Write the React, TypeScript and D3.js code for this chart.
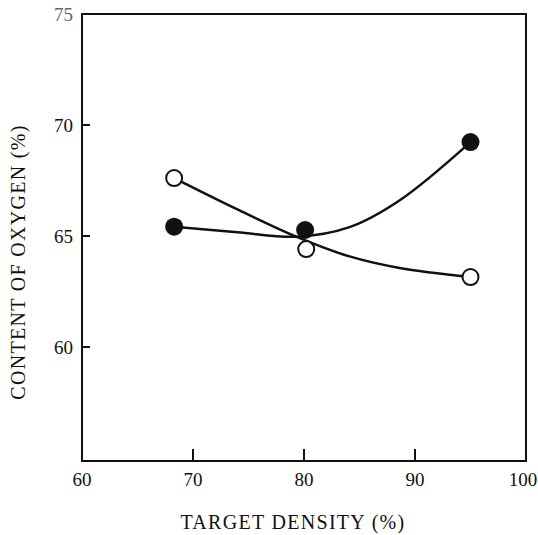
import React from "react";
import * as d3 from "d3";

const filledPoints: [number, number][] = [
  [68.3, 65.42],
  [80.1, 65.27],
  [95.0, 69.23],
];
const openPoints: [number, number][] = [
  [68.3, 67.61],
  [80.2, 64.41],
  [95.0, 63.15],
];
// fitted curves drawn by the author through the data
const filledCurve: [number, number][] = [
  [68.3, 65.42],
  [74, 65.17],
  [79.4, 64.97],
  [84.1, 65.4],
  [88.6, 66.6],
  [95.0, 69.23],
];
const openCurve: [number, number][] = [
  [68.3, 67.61],
  [74, 66.2],
  [79.4, 64.95],
  [84.1, 64.08],
  [88.6, 63.56],
  [95.0, 63.15],
];
const xTicks = [60, 70, 80, 90, 100];
const yTicks = [75, 70, 65, 60];
const xTitle = "TARGET DENSITY (%)";
const yTitle = "CONTENT OF OXYGEN (%)";

const W = 538;
const H = 535;
const left = 82;
const right = 526;
const top = 14;
const bottom = 461;

export default function App() {
  const x = d3.scaleLinear().domain([60, 100]).range([left, right]);
  const y = d3
    .scaleLinear()
    .domain([75 - (bottom - top) / 22.2, 75])
    .range([bottom, top]);
  const line = d3
    .line<[number, number]>()
    .x((d) => x(d[0]))
    .y((d) => y(d[1]))
    .curve(d3.curveCatmullRom.alpha(0.5));
  const font = "'Liberation Serif', 'Times New Roman', serif";
  const ink = "#111";
  const tickStyle = { fontFamily: font, fontSize: 19 };
  const titleStyle = { fontFamily: font, fontSize: 20, letterSpacing: 1.3 };
  return (
    <svg
      width={W}
      height={H}
      style={{ position: "absolute", left: 0, top: 0, background: "#fff" }}
    >
      <rect x={0} y={0} width={W} height={H} fill="#fff" />
      {/* frame */}
      <path
        d={`M${left},${top}H${right}V${bottom}H${left}Z`}
        fill="none"
        stroke={ink}
        strokeWidth={2}
      />
      {/* x ticks */}
      {xTicks.slice(1, -1).map((t) => (
        <line
          key={"xt" + t}
          x1={x(t)}
          x2={x(t)}
          y1={bottom}
          y2={bottom - 12}
          stroke={ink}
          strokeWidth={2}
        />
      ))}
      {xTicks.map((t) => (
        <text
          key={"xl" + t}
          x={t === 100 ? x(t) - 3 : x(t)}
          y={486}
          textAnchor="middle"
          style={tickStyle}
          fill={ink}
        >
          {t}
        </text>
      ))}
      {/* y ticks */}
      {yTicks.slice(1).map((t) => (
        <line
          key={"yt" + t}
          x1={left}
          x2={left + 8}
          y1={y(t)}
          y2={y(t)}
          stroke={ink}
          strokeWidth={2}
        />
      ))}
      {yTicks.map((t) => (
        <text
          key={"yl" + t}
          x={73}
          y={y(t)}
          dy="0.35em"
          textAnchor="end"
          style={tickStyle}
          fill={t === 75 ? "#666" : ink}
        >
          {t}
        </text>
      ))}
      {/* titles */}
      <text x={293} y={529} textAnchor="middle" style={titleStyle} fill={ink}>
        {xTitle}
      </text>
      <text
        transform={`translate(25,262) rotate(-90)`}
        textAnchor="middle"
        style={titleStyle}
        fill={ink}
      >
        {yTitle}
      </text>
      {/* curves */}
      <path d={line(filledCurve) || ""} fill="none" stroke={ink} strokeWidth={2.5} />
      <path d={line(openCurve) || ""} fill="none" stroke={ink} strokeWidth={2.5} />
      {/* markers */}
      {filledPoints.map((p, i) => (
        <circle key={"f" + i} cx={x(p[0])} cy={y(p[1])} r={9} fill={ink} />
      ))}
      {openPoints.map((p, i) => (
        <circle
          key={"o" + i}
          cx={x(p[0])}
          cy={y(p[1])}
          r={8}
          fill="#fff"
          stroke={ink}
          strokeWidth={2}
        />
      ))}
    </svg>
  );
}
